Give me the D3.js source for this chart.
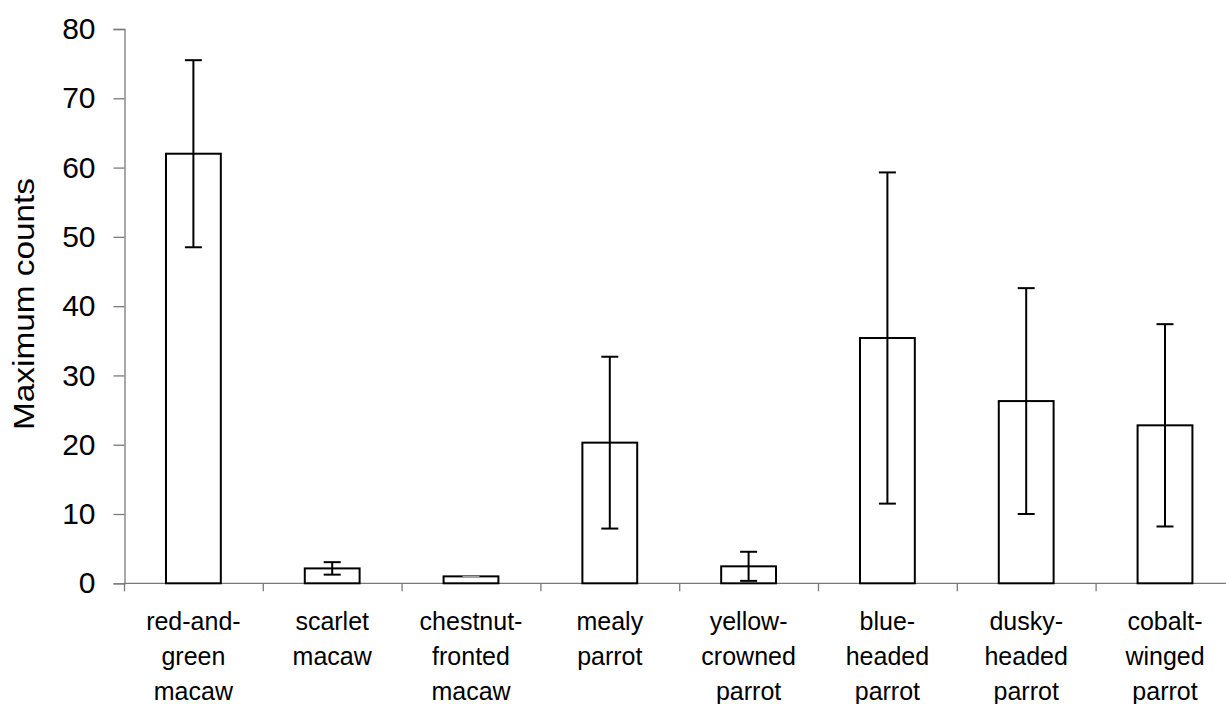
<!DOCTYPE html>
<html>
<head>
<meta charset="utf-8">
<script src="https://cdn.jsdelivr.net/npm/d3@7"></script>
<style>
  html, body { margin: 0; padding: 0; background: #fff; overflow: hidden; }
  svg { display: block; font-family: "Liberation Sans", Arial, sans-serif; }
</style>
</head>
<body>
<svg id="chart" width="1226" height="704"></svg>
<script>
// Parrot species (each label split into its printed lines)
const categories = [
  ["red-and-", "green", "macaw"],
  ["scarlet", "macaw"],
  ["chestnut-", "fronted", "macaw"],
  ["mealy", "parrot"],
  ["yellow-", "crowned", "parrot"],
  ["blue-", "headed", "parrot"],
  ["dusky-", "headed", "parrot"],
  ["cobalt-", "winged", "parrot"]
];
// Mean maximum counts and their error (half-range of the whisker)
const meanCounts = [62.0, 2.15, 1.0, 20.3, 2.45, 35.4, 26.3, 22.8];
const errorCounts = [13.5, 0.9, 0.0, 12.4, 2.1, 23.9, 16.3, 14.6];
const yTicks = [0, 10, 20, 30, 40, 50, 60, 70, 80];
const yTitle = "Maximum counts";

const svg = d3.select("#chart");
const keys = categories.map(c => c.join(" "));

const x = d3.scaleBand().domain(keys).range([124, 1234.4]).paddingInner(0).paddingOuter(0);
const y = d3.scaleLinear().domain([0, 80]).range([583.3, 29]);

const barW = x.bandwidth() * 0.395;
const capW = 17;
const axisColor = "#7a7a7a";

// Y axis
const yAxis = d3.axisLeft(y).tickValues(yTicks).tickSize(11).tickPadding(18).tickFormat(d3.format("d"));
const gy = svg.append("g").attr("transform", "translate(124.5,0)").call(yAxis);
gy.select(".domain").attr("stroke", axisColor).attr("stroke-width", 1.3);
gy.selectAll(".tick line").attr("stroke", axisColor).attr("stroke-width", 1.3);
gy.selectAll(".tick text")
  .attr("fill", "#000")
  .attr("font-size", 30)
  .attr("font-family", "'Liberation Sans', Arial, sans-serif");

// X axis baseline with ticks at band boundaries
const gx = svg.append("g");
gx.append("line")
  .attr("x1", 124).attr("x2", x.range()[1])
  .attr("y1", y(0)).attr("y2", y(0))
  .attr("stroke", axisColor).attr("stroke-width", 1.3);
const edges = keys.map(k => x(k)).concat([x.range()[1]]);
gx.selectAll("line.xtick").data(edges).join("line")
  .attr("class", "xtick")
  .attr("x1", d => d + 0.5).attr("x2", d => d + 0.5)
  .attr("y1", y(0)).attr("y2", y(0) + 8)
  .attr("stroke", axisColor).attr("stroke-width", 1.3);

// Bars
const data = keys.map((k, i) => ({ key: k, lines: categories[i], mean: meanCounts[i], err: errorCounts[i] }));
svg.append("g").selectAll("rect").data(data).join("rect")
  .attr("x", d => x(d.key) + (x.bandwidth() - barW) / 2)
  .attr("y", d => y(d.mean))
  .attr("width", barW)
  .attr("height", d => y(0) - y(d.mean))
  .attr("fill", "#fff")
  .attr("stroke", "#000")
  .attr("stroke-width", 2);

// Error bars
const eg = svg.append("g").attr("stroke", "#000").attr("stroke-width", 2);
data.forEach(d => {
  const cx = x(d.key) + x.bandwidth() / 2;
  const top = y(d.mean + d.err), bot = y(Math.max(0, d.mean - d.err));
  if (d.err > 0) {
    eg.append("line").attr("x1", cx).attr("x2", cx).attr("y1", top).attr("y2", bot);
  }
  eg.append("line").attr("x1", cx - capW / 2).attr("x2", cx + capW / 2).attr("y1", top).attr("y2", top)
    .attr("stroke", d.err > 0 ? "#000" : "#bbb").attr("stroke-width", d.err > 0 ? 2 : 1);
  if (d.err > 0) {
    eg.append("line").attr("x1", cx - capW / 2).attr("x2", cx + capW / 2).attr("y1", bot).attr("y2", bot);
  }
});

// Category labels
const lg = svg.append("g")
  .attr("font-size", 25)
  .attr("fill", "#000")
  .attr("text-anchor", "middle");
data.forEach(d => {
  const cx = x(d.key) + x.bandwidth() / 2;
  const t = lg.append("text").attr("x", cx).attr("y", 630);
  d.lines.forEach((ln, j) => {
    t.append("tspan").attr("x", cx).attr("y", 630 + j * 35).text(ln);
  });
});

// Y axis title
svg.append("text")
  .attr("transform", "translate(33.5,304) rotate(-90)")
  .attr("text-anchor", "middle")
  .attr("font-size", 30)
  .attr("textLength", 252)
  .attr("lengthAdjust", "spacingAndGlyphs")
  .attr("fill", "#000")
  .text(yTitle);
</script>
</body>
</html>
